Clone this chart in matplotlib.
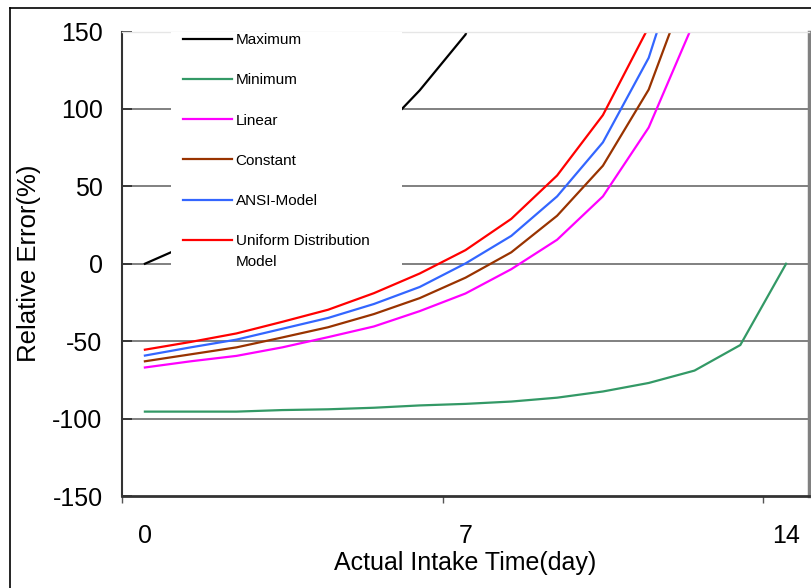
import matplotlib
matplotlib.use("Agg")
import matplotlib.pyplot as plt
from matplotlib.patches import Rectangle
from matplotlib.lines import Line2D

plt.rcParams['font.family'] = ['Liberation Sans', 'DejaVu Sans']

# ---- data ----
days = list(range(15))
x_tick_labels = ["0", "7", "14"]
x_label_days = [0, 7, 14]
y_ticks = [-150, -100, -50, 0, 50, 100, 150]

maximum = [0, 13, 27, 43, 61, 81, 112, 148, 230]
minimum = [-95.5, -95.5, -95.5, -94.5, -94, -93, -91.5, -90.5, -89, -86.5,
           -82.5, -77, -69, -52.5, 0]
linear = [-67, -63, -59.5, -54, -47.4, -40.5, -30.6, -19.2, -3.5, 15.5, 43.5, 88, 157]
constant = [-63, -58.5, -54, -47.6, -41, -32.5, -22.2, -9, 7.4, 31, 63.3, 112.5, 192]
ansi = [-59.3, -54, -49, -42, -35, -26, -15, 0.2, 18, 43.5, 78.4, 133, 225]
uniform = [-55.5, -50.5, -45, -37.5, -29.7, -19, -6.3, 8.8, 29, 57, 96, 153, 260]

series_names = ["Maximum", "Minimum", "Linear", "Constant", "ANSI-Model",
                "Uniform Distribution\nModel"]
series_values = [maximum, minimum, linear, constant, ansi, uniform]
series_colors = ["#000000", "#339966", "#FF00FF", "#993300", "#3366FF", "#FF0000"]

# ---- figure ----
W, H = 811, 588
fig = plt.figure(figsize=(W / 100, H / 100), dpi=100)
ax_l, ax_r, ax_t, ax_b = 122, 809, 31.5, 496
ax = fig.add_axes([ax_l / W, 1 - ax_b / H, (ax_r - ax_l) / W, (ax_b - ax_t) / H])

handles = []
for name, vals, col in zip(series_names, series_values, series_colors):
    h, = ax.plot(days[:len(vals)], vals, color=col, lw=1.6, zorder=2,
                 solid_joinstyle='miter')
    handles.append(h)

ax.set_xlim(-0.5, 14.5)
ax.set_ylim(-150, 150)

ax.set_yticks(y_ticks)
ax.set_yticklabels([str(v) for v in y_ticks])
ax.tick_params(axis='y', direction='in', length=7, width=1.3, color='#333333',
               labelsize=18, pad=14)

ax.set_xticks([-0.5, 6.5, 13.5])
ax.set_xticklabels([])
ax.set_xticks(x_label_days, minor=True)
ax.set_xticklabels(x_tick_labels, minor=True)
ax.tick_params(axis='x', which='major', direction='out', length=5, width=1,
               color='#555555')
ax.tick_params(axis='x', which='minor', length=0, labelsize=18, pad=20)

ax.grid(axis='y', color='#808080', lw=1.4)
gl = ax.yaxis.get_gridlines()
gl[0].set_visible(False)
gl[-1].set_visible(False)

ax.spines['left'].set_color('#333333')
ax.spines['left'].set_linewidth(1.5)
ax.spines['bottom'].set_color('#333333')
ax.spines['bottom'].set_linewidth(2)
ax.spines['right'].set_color('#808080')
ax.spines['right'].set_linewidth(2.5)
ax.spines['top'].set_color('#E6E6E6')
ax.spines['top'].set_linewidth(1)

ax.set_xlabel("Actual Intake Time(day)", fontsize=18)
ax.set_ylabel("Relative Error(%)", fontsize=18.5)
ax.xaxis.set_label_coords(0.5, -0.118)
ax.yaxis.set_label_coords(-0.118, 0.5)

# legend background (white block)
aw, ah = ax_r - ax_l, ax_b - ax_t
bg = Rectangle(((171 - ax_l) / aw, (ax_b - 272) / ah), (402 - 171) / aw,
               (272 - ax_t) / ah, transform=ax.transAxes, facecolor='white',
               edgecolor='none', zorder=3)
ax.add_patch(bg)
leg_fs = 11
leg = ax.legend(handles, series_names, loc='upper left',
                bbox_to_anchor=((183 - ax_l) / aw, 1 + (ax_t - 33) / ah),
                frameon=False, fontsize=leg_fs, handlelength=3.2,
                handletextpad=0.25, labelspacing=1.72, borderpad=0,
                borderaxespad=0)
leg.set_zorder(5)
line_sp = 1.58
for t in leg.get_texts():
    t.set_linespacing(line_sp)
# align the handle of the two-line entry with its first text line
last = leg.get_lines()[-1]
last.set_ydata([y + 0.5 * line_sp * leg_fs for y in last.get_ydata()])

# outer frame
fig.add_artist(Line2D([10 / W, 10 / W], [0, 1 - 8 / H], transform=fig.transFigure,
                      color='black', lw=1.2))
fig.add_artist(Line2D([10 / W, 1], [1 - 8 / H, 1 - 8 / H], transform=fig.transFigure,
                      color='black', lw=1.2))

fig.savefig("out.png", dpi=100)
